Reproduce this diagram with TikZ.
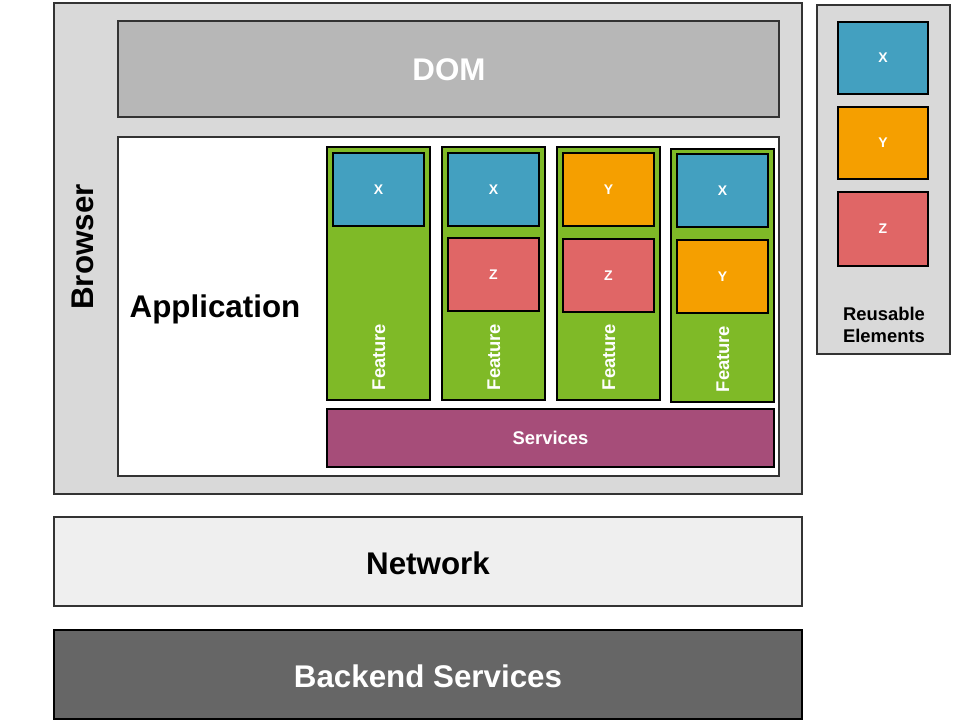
\documentclass[tikz,border=0pt]{standalone}
\usepackage{fontspec}
\setmainfont{Liberation Sans}
\begin{document}
\begin{tikzpicture}[x=0.75pt,y=-0.75pt,
  box/.style 2 args={draw=#1, line width=1.1pt, inner sep=0pt, outer sep=0pt, anchor=north west},
  sz/.style 2 args={minimum width=#1*0.75pt, minimum height=#2*0.75pt},
  big/.style={font=\fontsize{23.5}{28}\selectfont\bfseries},
  mid/.style={font=\fontsize{13.8}{16.5}\selectfont\bfseries},
  small/.style={font=\fontsize{10.5}{12}\selectfont\bfseries, text=white},
  gbox/.style={box={black}{}, fill=#1},
  xel/.style={gbox=elX, sz={91}{73}, small},
  yel/.style={gbox=elY, sz={91}{73}, small},
  zel/.style={gbox=elZ, sz={91}{73}, small},
  feat/.style={gbox=featgreen, sz={103}{253}},
  flabel/.style={mid, text=white, rotate=90}
]
\definecolor{elX}{HTML}{43A0C0}
\definecolor{elY}{HTML}{F59F00}
\definecolor{elZ}{HTML}{E06666}
\definecolor{featgreen}{HTML}{7FBA27}
\definecolor{svc}{HTML}{A64D79}
\definecolor{browsergray}{HTML}{D9D9D9}
\definecolor{domgray}{HTML}{B7B7B7}
\definecolor{netgray}{HTML}{EFEFEF}
\definecolor{backgray}{HTML}{666666}
\definecolor{edge}{HTML}{333333}

\useasboundingbox[fill=white] (0,0) rectangle (960,720);

% Browser frame and its contents
\node[box={edge}{}, fill=browsergray, sz={748}{491}] (browser) at (54,3) {};
\node[big, rotate=90] (browserlbl) at (83,247) {Browser};
\node[box={edge}{}, fill=domgray, sz={661}{96}] (dom) at (118,21) {};
\node[big, text=white] (domlbl) at (449,70) {DOM};
\node[box={edge}{}, fill=white, sz={661}{339}] (app) at (118,137) {};
\node[big] (applbl) at (215,309) {Application};

% Feature columns
\node[feat] (f1) at (327,147) {};
\node[feat] (f2) at (442,147) {};
\node[feat] (f3) at (557,147) {};
\node[feat] (f4) at (671,149) {};

\node[xel] (f1x) at (333,153) {X};
\node[xel] (f2x) at (448,153) {X};
\node[zel] (f2z) at (448,238) {Z};
\node[yel] (f3y) at (563,153) {Y};
\node[zel] (f3z) at (563,239) {Z};
\node[xel] (f4x) at (677,154) {X};
\node[yel] (f4y) at (677,240) {Y};

\node[flabel] (f1l) at (379,357) {Feature};
\node[flabel] (f2l) at (494,357) {Feature};
\node[flabel] (f3l) at (609,357) {Feature};
\node[flabel] (f4l) at (723,359) {Feature};

\node[gbox=svc, sz={447}{58}, mid, text=white] (services) at (327,409) {Services};

% Reusable elements panel
\node[box={edge}{}, fill=browsergray, sz={133}{349}] (reuse) at (817,5) {};
\node[gbox=elX, sz={90}{72}, small] (rx) at (838,22) {X};
\node[gbox=elY, sz={90}{72}, small] (ry) at (838,107) {Y};
\node[gbox=elZ, sz={90}{74}, small] (rz) at (838,192) {Z};
\node[mid, align=center] (reuselbl) at (884,325) {Reusable\\Elements};

% Lower layers
\node[box={edge}{}, fill=netgray, sz={748}{89}] (network) at (54,517) {};
\node[big] (netlbl) at (428,563) {Network};
\node[box={black}{}, fill=backgray, sz={748}{89}] (backend) at (54,630) {};
\node[big, text=white] (backlbl) at (428,676) {Backend Services};
\end{tikzpicture}
\end{document}
